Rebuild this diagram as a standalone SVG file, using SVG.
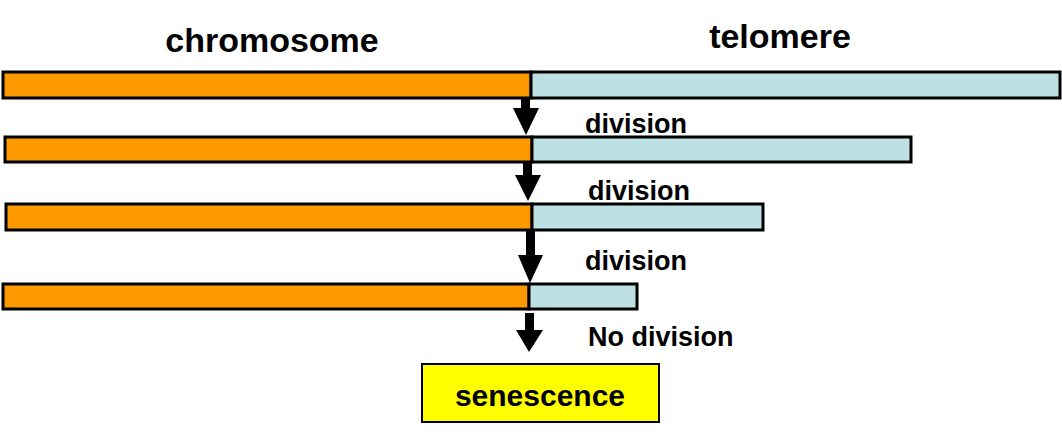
<svg xmlns="http://www.w3.org/2000/svg" width="1062" height="438" viewBox="0 0 1062 438">
<style>
.o{fill:#ff9900;stroke:#000;stroke-width:3}
.b{fill:#bde0e2;stroke:#000;stroke-width:3}
.t{font-family:"Liberation Sans",Arial,sans-serif;font-weight:bold;fill:#000}
.a{fill:#000}
</style>
<rect width="1062" height="438" fill="#fff"/>
<g id="title-chromosome"><text class="t" x="272" y="52" font-size="34" text-anchor="middle">chromosome</text></g>
<g id="title-telomere"><text class="t" x="780" y="48" font-size="34" text-anchor="middle">telomere</text></g>
<g id="row1"><rect class="o" x="3" y="72" width="528" height="26"/><rect class="b" x="531" y="72" width="529" height="26"/></g>
<g id="row2"><rect class="o" x="5" y="137" width="527" height="25"/><rect class="b" x="532" y="137" width="379" height="25"/></g>
<g id="row3"><rect class="o" x="6" y="204" width="526" height="26"/><rect class="b" x="532" y="204" width="231" height="26"/></g>
<g id="row4"><rect class="o" x="3" y="284" width="526" height="25"/><rect class="b" x="529" y="284" width="108" height="25"/></g>
<g id="connectors">
<polygon class="a" points="521,99 530,99 530,108 539,108 526,135 513,108 521,108"/>
<polygon class="a" points="523,163 532,163 532,175 541,175 528,201 515,175 523,175"/>
<polygon class="a" points="526,230 535,230 535,255 543,255 530,283 518,255 526,255"/>
<polygon class="a" points="525,313 534,313 534,330 543,330 529,352 516,330 525,330"/>
</g>
<g id="labels">
<text class="t" x="585" y="133" font-size="27">division</text>
<text class="t" x="588" y="200" font-size="27">division</text>
<text class="t" x="585" y="270" font-size="27">division</text>
<text class="t" x="588" y="346" font-size="27">No division</text>
</g>
<g id="senescence"><rect x="422" y="364" width="237" height="58" fill="#ffff00" stroke="#000" stroke-width="2"/><text class="t" x="540" y="406" font-size="30" text-anchor="middle">senescence</text></g>
</svg>
